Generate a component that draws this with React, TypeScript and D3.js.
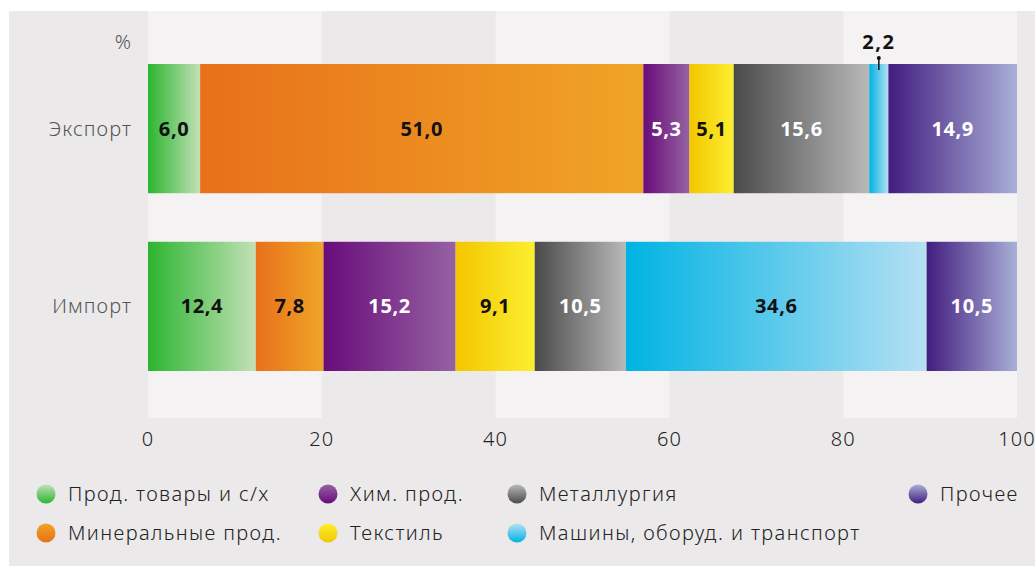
import { useEffect, useRef } from 'react';
import * as d3 from 'd3';

const categories = [
  'Прод. товары и с/х',
  'Минеральные прод.',
  'Хим. прод.',
  'Текстиль',
  'Металлургия',
  'Машины, оборуд. и транспорт',
  'Прочее',
];
const rows = ['Экспорт', 'Импорт'];
const exportValues = [6.0, 51.0, 5.3, 5.1, 15.6, 2.2, 14.9];
const importValues = [12.4, 7.8, 15.2, 9.1, 10.5, 34.6, 10.5];
const xTicks = [0, 20, 40, 60, 80, 100];

const gradients = [
  ['#2cb530', '#c2e1b6'],
  ['#e8701a', '#f0a526'],
  ['#680c7a', '#9662a2'],
  ['#f3c600', '#fcef30'],
  ['#4a4a4a', '#b9b9b9'],
  ['#00b3e3', '#b6e0f3'],
  ['#421d7e', '#a9afd8'],
];
const labelColors = ['#111', '#111', '#fff', '#111', '#fff', '#111', '#fff'];

const App = () => {
  const ref = useRef<SVGSVGElement>(null);

  useEffect(() => {
    const svg = d3.select(ref.current);
    svg.selectAll('*').remove();

    const width = 1035;
    const height = 566;
    const font = "'Noto Sans', sans-serif";
    const fmt = (v: number) => d3.format('.1f')(v).replace('.', ',');

    const x = d3.scaleLinear().domain([0, 100]).range([148, 1017]);
    const y = d3.scaleBand().domain(rows).range([64, 371]).paddingInner(0.2732).paddingOuter(0);

    const defs = svg.append('defs');
    gradients.forEach((g, i) => {
      const h = defs.append('linearGradient').attr('id', `bar${i}`).attr('x1', 0).attr('x2', 1).attr('y1', 0).attr('y2', 0);
      h.append('stop').attr('offset', '0%').attr('stop-color', g[0]);
      h.append('stop').attr('offset', '100%').attr('stop-color', g[1]);
      const v = defs.append('linearGradient').attr('id', `dot${i}`).attr('x1', 0).attr('x2', 0).attr('y1', 0).attr('y2', 1);
      v.append('stop').attr('offset', '0%').attr('stop-color', g[1]);
      v.append('stop').attr('offset', '100%').attr('stop-color', g[0]);
    });

    const label = (sel: any, size = 19, spacing = 1.1) =>
      sel
        .attr('font-family', font)
        .attr('font-size', size)
        .attr('font-weight', 300)
        .attr('letter-spacing', spacing);

    // background
    svg.append('rect').attr('x', 9).attr('y', 11).attr('width', width - 9).attr('height', height - 11).attr('fill', '#ebe9ea');

    // alternating column bands
    const top = 11;
    const bottom = 418;
    for (let i = 0; i < xTicks.length - 1; i += 2) {
      svg
        .append('rect')
        .attr('x', x(xTicks[i]))
        .attr('y', top)
        .attr('width', x(xTicks[i + 1]) - x(xTicks[i]))
        .attr('height', bottom - top)
        .attr('fill', '#f4f2f3');
    }

    // x tick labels
    label(
      svg
        .selectAll('.tick')
        .data(xTicks)
        .enter()
        .append('text')
        .attr('x', (d: number) => x(d))
        .attr('y', 446)
        .attr('text-anchor', 'middle')
        .attr('fill', '#222')
        .text((d: number) => d),
      20
    );

    // row labels
    rows.forEach((r) => {
      label(
        svg
          .append('text')
          .attr('x', 132)
          .attr('y', y(r) + y.bandwidth() / 2 + 7)
          .attr('text-anchor', 'end')
          .attr('fill', '#555')
          .text(r),
        20
      );
    });
    label(svg.append('text').attr('x', 132).attr('y', 49).attr('text-anchor', 'end').attr('fill', '#555').text('%'), 20);

    const series = [exportValues, importValues];
    series.forEach((vals, ri) => {
      const row = rows[ri];
      const y0 = y(row);
      let acc = 0;
      vals.forEach((v, i) => {
        const x0 = x(acc);
        const x1 = Math.min(x(acc + v), x(100));
        svg
          .append('rect')
          .attr('x', x0)
          .attr('y', y0)
          .attr('width', x1 - x0)
          .attr('height', y.bandwidth())
          .attr('fill', `url(#bar${i})`);
        const cx = (x0 + x1) / 2;
        if (v < 3) {
          // small segment: label above with a pointer
          svg.append('line').attr('x1', cx).attr('x2', cx).attr('y1', y0 - 6).attr('y2', y0 + 6).attr('stroke', '#111').attr('stroke-width', 1.5);
          svg.append('circle').attr('cx', cx).attr('cy', y0 - 6).attr('r', 2).attr('fill', '#111');
          svg
            .append('text')
            .attr('x', cx)
            .attr('y', y0 - 15)
            .attr('text-anchor', 'middle')
            .attr('font-family', font)
            .attr('font-weight', 700)
            .attr('font-size', 20)
            .attr('letter-spacing', 1.5)
            .attr('fill', '#111')
            .text(fmt(v));
        } else {
          svg
            .append('text')
            .attr('x', cx)
            .attr('y', y0 + y.bandwidth() / 2 + 7)
            .attr('text-anchor', 'middle')
            .attr('font-family', font)
            .attr('font-weight', 700)
            .attr('font-size', 20)
            .attr('letter-spacing', 0.6)
            .attr('fill', labelColors[i])
            .text(fmt(v));
        }
        acc += v;
      });
    });

    // legend
    const legendPos = [
      [46, 494],
      [46, 533],
      [328, 494],
      [328, 533],
      [517, 494],
      [517, 533],
      [918, 494],
    ];
    categories.forEach((c, i) => {
      const [lx, ly] = legendPos[i];
      svg.append('circle').attr('cx', lx).attr('cy', ly).attr('r', 9.5).attr('fill', `url(#dot${i})`);
      label(
        svg
          .append('text')
          .attr('x', lx + 22)
          .attr('y', ly + 7)
          .attr('fill', '#222')
          .text(c),
        20,
        1.4
      );
    });
  }, []);

  return (
    <svg
      ref={ref}
      width={1035}
      height={566}
      style={{ position: 'absolute', left: 0, top: 0, display: 'block', background: '#fff' }}
    ></svg>
  );
};

export default App;
